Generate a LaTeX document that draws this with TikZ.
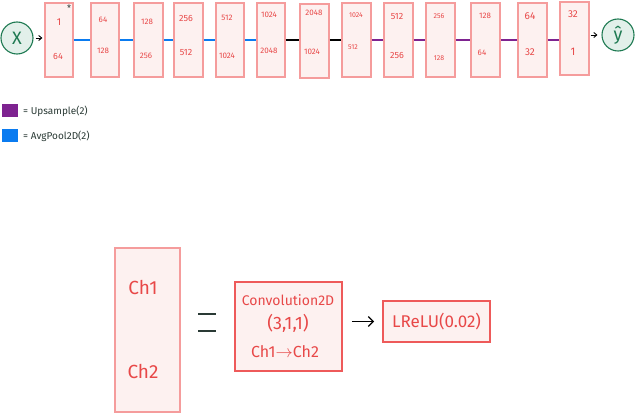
\documentclass[tikz,border=0pt]{standalone}
\usepackage{fontspec}
\setmainfont{Fira Sans}
\usetikzlibrary{arrows.meta}
\definecolor{bfill}{HTML}{FDF1F0}
\definecolor{bdraw}{HTML}{F59C9C}
\definecolor{btext}{HTML}{E84848}
\definecolor{cfill}{HTML}{E2F0EA}
\definecolor{cdraw}{HTML}{1E7A52}
\definecolor{upc}{HTML}{7E2390}
\definecolor{poolc}{HTML}{0A7BF0}
\definecolor{convdraw}{HTML}{EE5A5A}
\definecolor{eqc}{HTML}{2A3A35}
\tikzset{
  blk/.style={draw=bdraw, fill=bfill, line width=1.2pt, minimum width=28pt, minimum height=74pt, inner sep=0pt},
  num/.style={text=btext, font=\fontsize{8}{9}\selectfont, inner sep=0pt},
  circ/.style={circle, draw=cdraw, fill=cfill, line width=1.1pt, minimum size=32pt, inner sep=0pt, text=cdraw},
  pool/.style={draw=poolc, line width=2pt},
  mid/.style={draw=black, line width=1.4pt},
  up/.style={draw=upc, line width=2pt},
  arr/.style={draw=black, line width=0.9pt, -{Straight Barb[length=3pt,width=5pt]}},
  legsq/.style={minimum width=16pt, minimum height=13pt, inner sep=0pt},
  legtxt/.style={anchor=west, font=\fontsize{10}{11}\selectfont, inner sep=0pt, text=eqc},
  bigtxt/.style={text=btext, inner sep=0pt},
  eqline/.style={draw=eqc, line width=1.3pt},
}
\begin{document}
\begin{tikzpicture}[x=1pt,y=-1pt]
\useasboundingbox (0,0) rectangle (636,414);

% input / output circles
\node[circ, font=\fontsize{18}{20}\selectfont] (x) at (17,38) {X};
\node[circ, font=\fontsize{18}{20}\selectfont] (yh) at (618,35) {\^{y}};

% blocks
\node[blk] (b1) at (59,40) {};
\node[blk] (b2) at (105,40) {};
\node[blk, minimum width=29pt] (b3) at (148.5,40) {};
\node[blk, minimum width=29pt] (b4) at (188.5,40) {};
\node[blk] (b5) at (230,40) {};
\node[blk] (b6) at (271,40) {};
\node[blk, minimum width=29pt] (b7) at (314.5,41) {};
\node[blk, minimum width=29pt] (b8) at (356.5,40) {};
\node[blk, minimum width=29pt] (b9) at (398.5,40) {};
\node[blk, minimum width=29pt] (b10) at (440.5,40) {};
\node[blk, minimum width=29pt] (b11) at (485.5,40) {};
\node[blk, minimum width=29pt] (b12) at (532.5,40) {};
\node[blk, minimum width=29pt, minimum height=73pt] (b13) at (574.5,38.5) {};

% block texts
\node[num, font=\fontsize{10}{11}\selectfont] (t1a) at (59,22) {1};
\node[num, font=\fontsize{9}{10}\selectfont] (t1b) at (58,57) {64};
\node[text=eqc, font=\fontsize{9}{9}\selectfont, inner sep=0pt] (ast) at (69,8) {*};
\node[num] (t2a) at (103,20) {64};
\node[num] (t2b) at (103,51) {128};
\node[num] (t3a) at (147,22) {128};
\node[num] (t3b) at (146,56) {256};
\node[num, font=\fontsize{9}{10}\selectfont] (t4a) at (186,19) {256};
\node[num, font=\fontsize{9}{10}\selectfont] (t4b) at (186,53) {512};
\node[num] (t5a) at (227,18) {512};
\node[num] (t5b) at (227,56) {1024};
\node[num] (t6a) at (269,15) {1024};
\node[num] (t6b) at (269,51) {2048};
\node[num] (t7a) at (314,13) {2048};
\node[num] (t7b) at (312,52) {1024};
\node[num, font=\fontsize{7}{8}\selectfont] (t8a) at (356,15) {1024};
\node[num, font=\fontsize{7}{8}\selectfont] (t8b) at (353,47) {512};
\node[num, font=\fontsize{9}{10}\selectfont] (t9a) at (397,17) {512};
\node[num, font=\fontsize{9}{10}\selectfont] (t9b) at (397,56) {256};
\node[num, font=\fontsize{7}{8}\selectfont] (t10a) at (439,16) {256};
\node[num, font=\fontsize{7}{8}\selectfont] (t10b) at (439,58) {128};
\node[num] (t11a) at (485,16) {128};
\node[num] (t11b) at (482,53) {64};
\node[num, font=\fontsize{10}{11}\selectfont] (t12a) at (530,16) {64};
\node[num, font=\fontsize{10}{11}\selectfont] (t12b) at (530,52) {32};
\node[num, font=\fontsize{10}{11}\selectfont] (t13a) at (573,14) {32};
\node[num, font=\fontsize{11}{12}\selectfont] (t13b) at (573,52) {1};

% connectors
\draw[pool] (b1.east) -- (b2.west);
\draw[pool] (b2.east) -- (b3.west);
\draw[pool] (b3.east) -- (b4.west);
\draw[pool] (b4.east) -- (b5.west);
\draw[pool, line width=2.6pt] (b5.east) -- (b6.west);
\draw[mid] (b6.east) -- (b7.west |- b6.east);
\draw[mid] (b7.east |- b8.west) -- (b8.west);
\draw[up] (b8.east) -- (b9.west);
\draw[up] (b9.east) -- (b10.west);
\draw[up] (b10.east) -- (b11.west);
\draw[up] (b11.east) -- (b12.west);
\draw[up] (b12.east) -- (b13.west |- b12.east);
\draw[arr, shorten <=2pt, shorten >=2pt] (x.east) -- (x.east -| b1.west);
\draw[arr, shorten <=1pt, shorten >=4pt] (b13.east |- yh.west) -- (yh.west);

% legend
\node[legsq, fill=upc] (lu) at (10,111) {};
\node[legtxt] (lut) at (23,111) {= Upsample(2)};
\node[legsq, fill=poolc] (lp) at (10,136) {};
\node[legtxt] (lpt) at (23,136) {= AvgPool2D(2)};

% bottom explanation
\node[blk, minimum width=65pt, minimum height=164pt, line width=1.6pt] (big) at (147.5,330) {};
\node[bigtxt, font=\fontsize{19}{21}\selectfont] (ch1) at (143,288) {Ch1};
\node[bigtxt, font=\fontsize{19}{21}\selectfont] (ch2) at (143,372) {Ch2};
\coordinate (eqc) at (207,322.5);
\draw[eqline] ([xshift=-9pt,yshift=8.5pt]eqc) -- ([xshift=9pt,yshift=8.5pt]eqc);
\draw[eqline] ([xshift=-9pt,yshift=-8.5pt]eqc) -- ([xshift=9pt,yshift=-8.5pt]eqc);
\node[draw=convdraw, fill=bfill, line width=1.6pt, minimum width=107pt, minimum height=89pt, inner sep=0pt] (conv) at (288.5,326.5) {};
\node[bigtxt, font=\fontsize{14}{16}\selectfont] (cv1) at (288,300) {Convolution2D};
\node[bigtxt, font=\fontsize{18}{20}\selectfont] (cv2) at (288,323) {(3,1,1)};
\node[bigtxt, font=\fontsize{16}{18}\selectfont] (cv3) at (285,352) {Ch1$\rightarrow$Ch2};
\node[draw=convdraw, fill=bfill, line width=1.6pt, minimum width=107pt, minimum height=41pt, inner sep=0pt] (lr) at (436.5,321.5) {};
\node[bigtxt, font=\fontsize{17}{19}\selectfont] (lrt) at (436.5,322) {LReLU(0.02)};
\draw[arr, line width=1.3pt, -{Straight Barb[length=5pt,width=10pt]}, shorten <=9pt, shorten >=8pt] (lr.west -| conv.east) -- (lr.west);
\end{tikzpicture}
\end{document}
